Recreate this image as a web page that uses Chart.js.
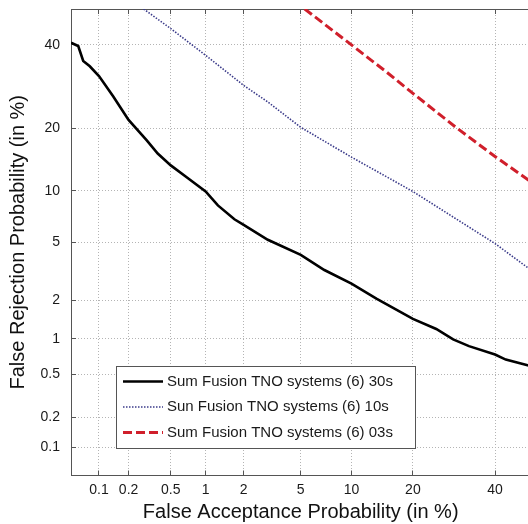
<!DOCTYPE html>
<html>
<head>
<meta charset="utf-8">
<script src="https://cdn.jsdelivr.net/npm/chart.js@4.4.0/dist/chart.umd.min.js"></script>
<style>
  html, body { margin: 0; padding: 0; background: #fff; overflow: hidden; }
  #wrap { width: 528px; height: 524px; overflow: hidden; }
  canvas { display: block; }
</style>
</head>
<body>
<div id="wrap"><canvas id="chartDET" width="540" height="524"></canvas></div>
<script>
// tick positions (in %) for both axes
var tickValues = [0.1, 0.2, 0.5, 1, 2, 5, 10, 20, 40];

// Sum Fusion 30s : false acceptance / false rejection (in %)
var fa30 = [0.05, 0.06, 0.068, 0.08, 0.1, 0.14, 0.2, 0.3, 0.38, 0.5, 0.7, 1, 1.26, 1.7, 2, 3, 5, 7, 10, 13.5, 20, 25, 29, 33, 40, 43, 50];
var fr30 = [40.6, 39.7, 35.7, 34.3, 31.8, 26.9, 21.7, 17.7, 15.4, 13.5, 11.7, 9.9, 8.3, 6.9, 6.4, 5.18, 4.14, 3.28, 2.64, 2.05, 1.44, 1.2, 0.99, 0.87, 0.74, 0.67, 0.59];

// Sun Fusion 10s
var fa10 = [0.28, 0.5, 1, 2, 3, 5, 10, 20, 40, 50];
var fr10 = [50, 44.5, 37.2, 29.5, 25.6, 20.2, 14.8, 9.9, 4.9, 3.3];

// Sum Fusion 03s
var fa03 = [5.3, 10, 15, 20, 30, 40, 50];
var fr03 = [50, 40, 33, 27.6, 20, 14.9, 11.2];

function pares(xs, ys) {
  return xs.map(function (x, i) { return { x: x, y: ys[i] }; });
}

// inverse normal CDF (Acklam) - used only for the DET axis
function probit(p) {
  var a = [-3.969683028665376e+01, 2.209460984245205e+02, -2.759285104469687e+02, 1.383577518672690e+02, -3.066479806614716e+01, 2.506628277459239e+00];
  var b = [-5.447609879822406e+01, 1.615858368580409e+02, -1.556989798598866e+02, 6.680131188771972e+01, -1.328068155288572e+01];
  var c = [-7.784894002430293e-03, -3.223964580411365e-01, -2.400758277161838e+00, -2.549732539343734e+00, 4.374664141464968e+00, 2.938163982698783e+00];
  var d = [7.784695709041462e-03, 3.224671290700398e-01, 2.445134137142996e+00, 3.754408661907416e+00];
  var plow = 0.02425, q, r;
  if (p < plow) {
    q = Math.sqrt(-2 * Math.log(p));
    return (((((c[0] * q + c[1]) * q + c[2]) * q + c[3]) * q + c[4]) * q + c[5]) /
      ((((d[0] * q + d[1]) * q + d[2]) * q + d[3]) * q + 1);
  }
  if (p <= 1 - plow) {
    q = p - 0.5; r = q * q;
    return (((((a[0] * r + a[1]) * r + a[2]) * r + a[3]) * r + a[4]) * r + a[5]) * q /
      (((((b[0] * r + b[1]) * r + b[2]) * r + b[3]) * r + b[4]) * r + 1);
  }
  q = Math.sqrt(-2 * Math.log(1 - p));
  return -(((((c[0] * q + c[1]) * q + c[2]) * q + c[3]) * q + c[4]) * q + c[5]) /
    ((((d[0] * q + d[1]) * q + d[2]) * q + d[3]) * q + 1);
}

// normal deviate scale for the DET plot
class ProbitScale extends Chart.Scale {
  determineDataLimits() {
    this.min = this.options.min;
    this.max = this.options.max;
  }
  buildTicks() {
    return tickValues.map(function (v) { return { value: v }; });
  }
  configure() {
    super.configure();
    this._lo = probit(this.min / 100);
    this._hi = probit(this.max / 100);
  }
  getLabelForValue(v) { return String(v); }
  getPixelForValue(v) {
    if (v === null || v === undefined || isNaN(v)) return NaN;
    return this.getPixelForDecimal((probit(v / 100) - this._lo) / (this._hi - this._lo));
  }
  getValueForPixel() { return null; }
}
ProbitScale.id = "probit";
ProbitScale.defaults = {};
Chart.register(ProbitScale);

var FONTE = "'Liberation Sans', Arial, Helvetica, sans-serif";

// legenda desenhada dentro da area do grafico, como no original
var legendaBox = {
  id: "legendaBox",
  afterDraw: function (chart) {
    var ctx = chart.ctx;
    var x = 116, y = 366, w = 299, h = 82;
    ctx.save();
    ctx.fillStyle = "#fff";
    ctx.fillRect(x, y, w, h);
    ctx.strokeStyle = "#555";
    ctx.lineWidth = 1;
    ctx.strokeRect(x + 0.5, y + 0.5, w, h);
    ctx.font = "15px " + FONTE;
    ctx.textBaseline = "middle";
    chart.data.datasets.forEach(function (ds, i) {
      var ly = y + 15.5 + i * 25.5;
      ctx.beginPath();
      ctx.strokeStyle = ds.borderColor;
      ctx.lineWidth = ds.borderWidth;
      ctx.setLineDash(ds.borderDash || []);
      ctx.moveTo(123, ly);
      ctx.lineTo(163, ly);
      ctx.stroke();
      ctx.setLineDash([]);
      ctx.fillStyle = "#1a1a1a";
      ctx.fillText(ds.label, 167, ly);
    });
    ctx.restore();
  }
};

function semPadding(scale) {
  scale.paddingTop = 0;
  scale.paddingBottom = 0;
  scale.paddingLeft = 0;
  scale.paddingRight = 0;
}

document.addEventListener("DOMContentLoaded", function () {
  var ctx = document.getElementById("chartDET").getContext("2d");

  var gradeComum = {
    color: "#b4b4b4",
    lineWidth: 1,
    drawTicks: true,
    tickLength: -5,
    tickColor: "#555",
    tickWidth: 1
  };
  var bordaComum = { display: true, color: "#555", width: 1, dash: [1, 2] };

  new Chart(ctx, {
    type: "scatter",
    data: {
      datasets: [
        {
          label: "Sum Fusion TNO systems (6) 30s",
          data: pares(fa30, fr30),
          borderColor: "#000",
          borderWidth: 2.6,
          xAxisID: "x", yAxisID: "y"
        },
        {
          label: "Sun Fusion TNO systems (6) 10s",
          data: pares(fa10, fr10),
          borderColor: "#3b3b8a",
          borderWidth: 1.6,
          borderDash: [1.5, 1.5],
          xAxisID: "x", yAxisID: "y"
        },
        {
          label: "Sum Fusion TNO systems (6) 03s",
          data: pares(fa03, fr03),
          borderColor: "#d01f2b",
          borderWidth: 3,
          borderDash: [9, 4],
          xAxisID: "x", yAxisID: "y"
        }
      ]
    },
    options: {
      responsive: false,
      animation: false,
      events: [],
      layout: { padding: { top: 0, right: 9.6, bottom: 0, left: 0 } },
      elements: {
        point: { radius: 0 },
        line: { tension: 0, fill: false }
      },
      datasets: { scatter: { showLine: true, pointRadius: 0 } },
      plugins: {
        legend: { display: false },
        tooltip: { enabled: false }
      },
      scales: {
        x: {
          type: "probit",
          position: "bottom",
          min: 0.05,
          max: 50,
          grid: gradeComum,
          border: bordaComum,
          ticks: {
            padding: 11.5,
            color: "#1a1a1a",
            font: { family: FONTE, size: 14 },
            maxRotation: 0,
            autoSkip: false
          },
          title: {
            display: true,
            text: "False Acceptance Probability (in %)",
            color: "#111",
            font: { family: FONTE, size: 20 },
            padding: { top: 0, bottom: 0 }
          },
          afterFit: function (scale) { scale.height = 48.5; semPadding(scale); }
        },
        xt: {
          type: "probit",
          position: "top",
          min: 0.05,
          max: 50,
          grid: { drawOnChartArea: false, drawTicks: true, tickLength: -5, tickColor: "#555" },
          border: { display: true, color: "#555", width: 1 },
          ticks: { display: false },
          afterFit: function (scale) { scale.height = 9; semPadding(scale); }
        },
        y: {
          type: "probit",
          position: "left",
          min: 0.05,
          max: 50,
          grid: gradeComum,
          border: bordaComum,
          ticks: {
            padding: 16,
            color: "#1a1a1a",
            font: { family: FONTE, size: 14 },
            autoSkip: false
          },
          title: {
            display: true,
            text: "False Rejection Probability (in %)",
            color: "#111",
            font: { family: FONTE, size: 20 },
            padding: { top: 6.5, bottom: 0 }
          },
          afterFit: function (scale) { scale.width = 71; semPadding(scale); }
        }
      }
    },
    plugins: [legendaBox]
  });
});
</script>
</body>
</html>
